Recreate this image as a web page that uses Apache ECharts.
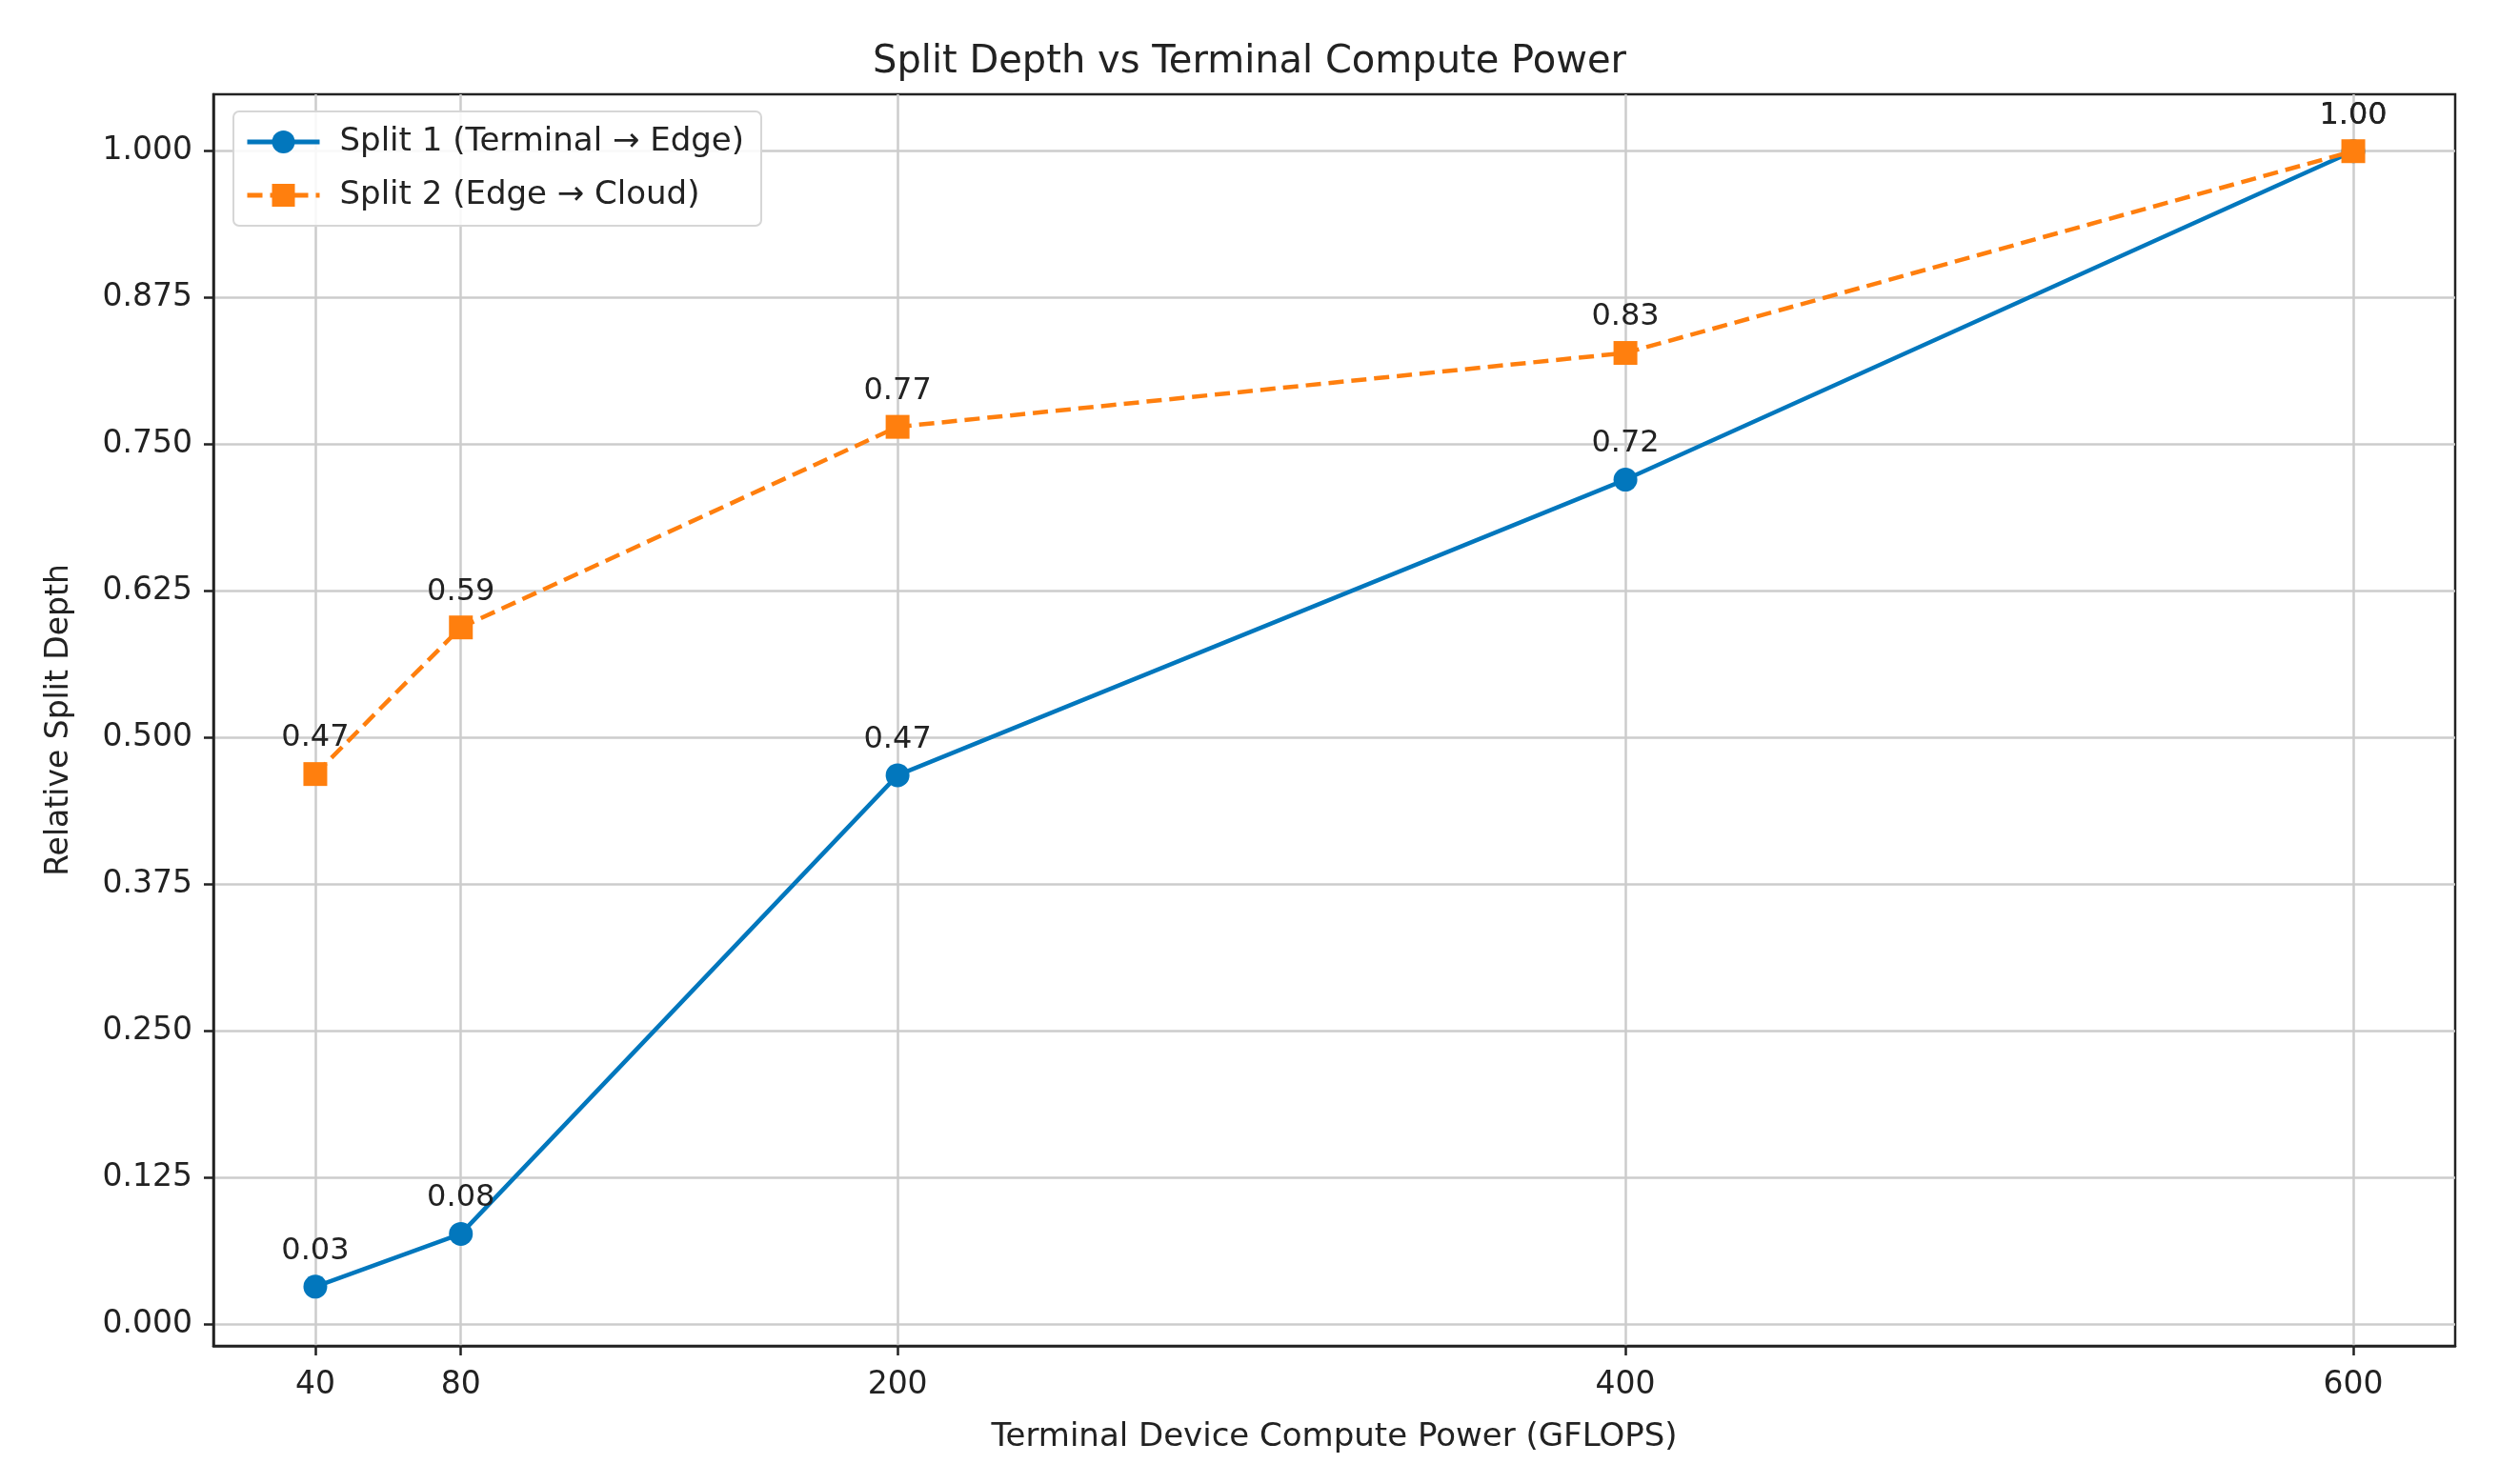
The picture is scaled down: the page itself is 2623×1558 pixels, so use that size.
<!DOCTYPE html>
<html>
<head>
<meta charset="utf-8">
<script src="https://cdn.jsdelivr.net/npm/echarts@6/dist/echarts.min.js"></script>
<style>html,body{margin:0;padding:0;background:#fff}#c{width:2623px;height:1558px}</style>
</head>
<body>
<div id="c"></div>
<script>
const computePower = [40, 80, 200, 400, 600];
const split1 = [0.032, 0.077, 0.468, 0.72, 1.0];
const split2 = [0.469, 0.594, 0.765, 0.828, 1.0];
const xTicks = [40, 80, 200, 400, 600];
const yTicks = [0, 0.125, 0.25, 0.375, 0.5, 0.625, 0.75, 0.875, 1.0];
const seriesNames = ['Split 1 (Terminal → Edge)', 'Split 2 (Edge → Cloud)'];

const font = 'DejaVu Sans';
const blue = '#0277bd', orange = '#ff7f0e';
const chart = echarts.init(document.getElementById('c'));
const pairs = (ys) => computePower.map((x, i) => [x, ys[i]]);
const labelCfg = {
  show: true, position: 'top', distance: 9,
  fontFamily: font, fontSize: 32, color: '#222',
  formatter: p => p.value[1].toFixed(2)
};
chart.setOption({
  animation: false,
  backgroundColor: '#fff',
  title: {
    text: 'Split Depth vs Terminal Compute Power',
    left: 'center', top: 41,
    textStyle: {fontFamily: font, fontSize: 40, fontWeight: 'normal', color: '#222'}
  },
  grid: {left: 224, right: 46, top: 99, bottom: 145, show: true, borderColor: '#222', borderWidth: 2.5, backgroundColor: 'transparent'},
  legend: {
    left: 245, top: 117, orient: 'vertical', itemGap: 22,
    itemWidth: 76, itemHeight: 30, padding: [15, 18, 15, 12],
    backgroundColor: 'rgba(255,255,255,0.85)', borderColor: '#d6d6d6', borderWidth: 2, borderRadius: 6,
    textStyle: {fontFamily: font, fontSize: 34, color: '#222', padding: [0, 0, 0, 16]},
    data: [
      {name: seriesNames[0], lineStyle: {width: 5}},
      {name: seriesNames[1], lineStyle: {width: 5}}
    ]
  },
  xAxis: {
    type: 'value', min: 12, max: 628,
    name: 'Terminal Device Compute Power (GFLOPS)', nameLocation: 'middle', nameGap: 79,
    nameTextStyle: {fontFamily: font, fontSize: 34, color: '#222'},
    axisLine: {show: true, onZero: false, lineStyle: {color: '#222', width: 2.5}},
    axisTick: {show: true, length: 10, customValues: xTicks, lineStyle: {color: '#222', width: 2.5}},
    axisLabel: {customValues: xTicks, fontFamily: font, fontSize: 33, color: '#222', margin: 25},
    splitLine: {show: true, lineStyle: {color: '#cccccc', width: 2.5}}
  },
  yAxis: {
    type: 'value', min: -0.0185, max: 1.0485,
    name: 'Relative Split Depth', nameLocation: 'middle', nameGap: 145,
    nameTextStyle: {fontFamily: font, fontSize: 33, color: '#222'},
    axisLine: {show: true, onZero: false, lineStyle: {color: '#222', width: 2.5}},
    axisTick: {show: true, length: 10, customValues: yTicks, lineStyle: {color: '#222', width: 2.5}},
    axisLabel: {customValues: yTicks, fontFamily: font, fontSize: 33, color: '#222', margin: 22, formatter: v => v.toFixed(3)},
    splitLine: {show: true, lineStyle: {color: '#cccccc', width: 2.5}}
  },
  series: [
    {
      name: seriesNames[0], type: 'line', data: pairs(split1),
      symbol: 'circle', symbolSize: 25,
      lineStyle: {color: blue, width: 4.5},
      itemStyle: {color: blue},
      label: labelCfg, z: 3
    },
    {
      name: seriesNames[1], type: 'line', data: pairs(split2),
      symbol: 'rect', symbolSize: 25,
      lineStyle: {color: orange, width: 4.5, type: [16, 8]},
      itemStyle: {color: orange},
      label: labelCfg, z: 4
    }
  ]
});
</script>
</body>
</html>
